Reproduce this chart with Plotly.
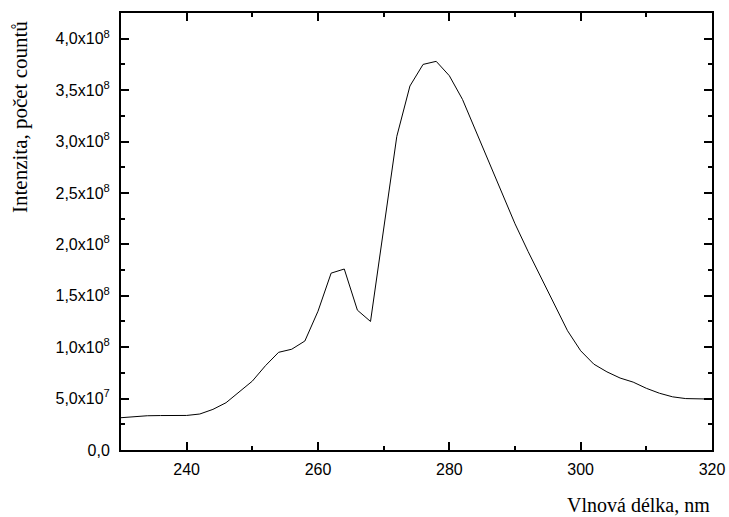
import plotly.graph_objects as go

wavelength = [230, 232, 234, 236, 238, 240, 242, 244, 246, 248, 250, 252, 254, 256, 258,
              260, 262, 264, 266, 268, 270, 272, 274, 276, 278, 280, 282, 284, 286, 288,
              290, 292, 294, 296, 298, 300, 302, 304, 306, 308, 310, 312, 314, 316, 318, 320]
intensity_e8 = [0.314, 0.327, 0.333, 0.335, 0.336, 0.336, 0.350, 0.395, 0.460, 0.565,
                0.670, 0.820, 0.950, 0.980, 1.060, 1.350, 1.720, 1.760, 1.360, 1.250,
                2.150, 3.050, 3.540, 3.750, 3.780, 3.640, 3.410, 3.110, 2.810, 2.510,
                2.200, 1.930, 1.670, 1.410, 1.160, 0.965, 0.835, 0.760, 0.700, 0.660,
                0.600, 0.552, 0.517, 0.500, 0.495, 0.495]
intensity = [v * 1e8 for v in intensity_e8]

y_tickvals = [0, 5e7, 1e8, 1.5e8, 2e8, 2.5e8, 3e8, 3.5e8, 4e8]
y_ticktext = ["0,0", "5,0x10<sup>7</sup>", "1,0x10<sup>8</sup>", "1,5x10<sup>8</sup>",
              "2,0x10<sup>8</sup>", "2,5x10<sup>8</sup>", "3,0x10<sup>8</sup>",
              "3,5x10<sup>8</sup>", "4,0x10<sup>8</sup>"]
x_tickvals = [240, 260, 280, 300, 320]
x_ticktext = ["240", "260", "280", "300", "320"]

x_title = "Vlnová délka, nm"
y_title = "Intenzita, počet countů"

fig = go.Figure()
fig.add_trace(go.Scatter(x=wavelength, y=intensity, mode="lines",
                         line=dict(color="black", width=1), showlegend=False,
                         hoverinfo="skip"))

tickfont = dict(family="Arial, 'Liberation Sans', sans-serif", size=16, color="black")
serif = "'Liberation Serif', 'Times New Roman', serif"

fig.update_layout(
    width=729, height=517,
    margin=dict(l=121, r=17, t=13, b=67, autoexpand=False),
    paper_bgcolor="white", plot_bgcolor="white",
    xaxis=dict(range=[230, 320], tickmode="array", tickvals=x_tickvals, ticktext=x_ticktext,
               ticks="inside", ticklen=8, tickwidth=1.5, tickcolor="black",
               showline=True, linecolor="black", linewidth=2, mirror="allticks",
               showgrid=False, zeroline=False, tickfont=tickfont, ticklabelstandoff=4,
               automargin=False,
               minor=dict(tickmode="array", tickvals=[230, 250, 270, 290, 310],
                          ticks="inside", ticklen=4, tickwidth=1.5, tickcolor="black",
                          showgrid=False)),
    yaxis=dict(range=[0, 4.25e8], tickmode="array", tickvals=y_tickvals, ticktext=y_ticktext,
               ticks="inside", ticklen=8, tickwidth=1.5, tickcolor="black",
               showline=True, linecolor="black", linewidth=2, mirror="allticks",
               showgrid=False, zeroline=False, tickfont=tickfont, ticklabelstandoff=6,
               automargin=False,
               minor=dict(tickmode="array",
                          tickvals=[2.5e7, 7.5e7, 1.25e8, 1.75e8, 2.25e8, 2.75e8, 3.25e8, 3.75e8, 4.25e8],
                          ticks="inside", ticklen=4, tickwidth=1.5, tickcolor="black",
                          showgrid=False)),
    annotations=[
        dict(text=x_title, xref="paper", yref="paper", x=1.0, y=0, yshift=-55,
             xanchor="right", yanchor="middle", showarrow=False,
             font=dict(family=serif, size=20, color="black")),
        dict(text=y_title, xref="paper", yref="paper", x=0, xshift=-101, y=1.0, yshift=-104,
             xanchor="center", yanchor="middle", textangle=-90, showarrow=False,
             font=dict(family=serif, size=21, color="black")),
    ],
)

fig.write_html("out.html", config={"displayModeBar": False},
               post_script="document.body.style.margin='0';document.body.style.overflow='hidden';")
